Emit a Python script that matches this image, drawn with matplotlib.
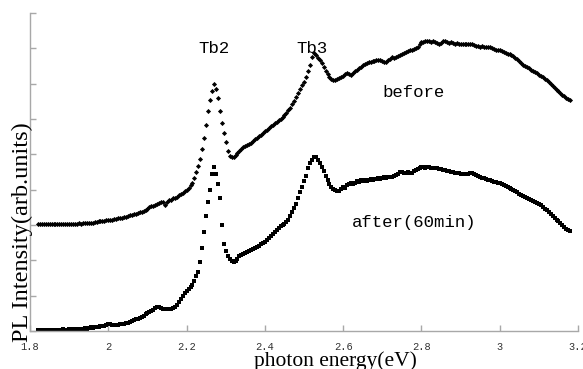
import numpy as np
import matplotlib
matplotlib.use("Agg")
import matplotlib.pyplot as plt

# PL spectra, 1.820 - 3.180 eV, 0.005 eV step
e_start = 1.82
e_step = 0.005

before = [
    3.03, 3.03, 3.02, 3.03, 3.03, 3.04, 3.03, 3.03, 3.02, 3.03,
    3.03, 3.04, 3.03, 3.03, 3.04, 3.03, 3.02, 3.03, 3.04, 3.04,
    3.04, 3.05, 3.04, 3.05, 3.06, 3.05, 3.06, 3.07, 3.06, 3.08,
    3.09, 3.10, 3.10, 3.12, 3.11, 3.13, 3.14, 3.15, 3.14, 3.17,
    3.18, 3.19, 3.19, 3.21, 3.22, 3.22, 3.25, 3.28, 3.27, 3.30,
    3.32, 3.34, 3.36, 3.38, 3.41, 3.43, 3.45, 3.50, 3.53, 3.55,
    3.57, 3.60, 3.63, 3.66, 3.64, 3.57, 3.65, 3.70, 3.72, 3.75,
    3.77, 3.80, 3.84, 3.87, 3.90, 3.95, 4.00, 4.05, 4.12, 4.20,
    4.33, 4.50, 4.68, 4.88, 5.15, 5.46, 5.83, 6.22, 6.54, 6.80,
    7.00, 6.85, 6.60, 6.22, 5.90, 5.60, 5.35, 5.10, 4.95, 4.92,
    4.93, 4.98, 5.05, 5.10, 5.16, 5.20, 5.24, 5.26, 5.30, 5.33,
    5.38, 5.42, 5.46, 5.52, 5.56, 5.60, 5.66, 5.70, 5.74, 5.80,
    5.84, 5.88, 5.92, 5.96, 6.00, 6.06, 6.12, 6.18, 6.25, 6.32,
    6.42, 6.52, 6.63, 6.74, 6.85, 6.96, 7.05, 7.18, 7.35, 7.53,
    7.75, 7.86, 7.82, 7.74, 7.68, 7.58, 7.47, 7.36, 7.26, 7.18,
    7.13, 7.10, 7.10, 7.12, 7.16, 7.18, 7.22, 7.28, 7.30, 7.26,
    7.25, 7.30, 7.36, 7.40, 7.45, 7.48, 7.52, 7.55, 7.58, 7.60,
    7.62, 7.64, 7.65, 7.66, 7.67, 7.66, 7.63, 7.61, 7.62, 7.66,
    7.70, 7.75, 7.74, 7.76, 7.79, 7.81, 7.84, 7.87, 7.89, 7.92,
    7.95, 7.96, 7.98, 8.00, 8.04, 8.12, 8.17, 8.19, 8.20, 8.20,
    8.20, 8.19, 8.20, 8.18, 8.16, 8.12, 8.15, 8.20, 8.22, 8.18,
    8.16, 8.17, 8.14, 8.13, 8.14, 8.12, 8.12, 8.13, 8.11, 8.12,
    8.13, 8.11, 8.12, 8.10, 8.07, 8.06, 8.05, 8.07, 8.05, 8.04,
    8.05, 8.04, 8.00, 7.97, 7.95, 7.96, 7.95, 7.92, 7.90, 7.87,
    7.85, 7.83, 7.80, 7.77, 7.74, 7.70, 7.64, 7.58, 7.53, 7.50,
    7.47, 7.44, 7.40, 7.36, 7.33, 7.29, 7.25, 7.21, 7.18, 7.14,
    7.10, 7.05, 7.00, 6.94, 6.88, 6.83, 6.78, 6.73, 6.68, 6.64,
    6.60, 6.57, 6.54,
]

after = [
    0.03, 0.03, 0.02, 0.03, 0.03, 0.04, 0.03, 0.03, 0.04, 0.04,
    0.03, 0.04, 0.04, 0.05, 0.04, 0.04, 0.05, 0.05, 0.04, 0.05,
    0.05, 0.06, 0.05, 0.07, 0.08, 0.07, 0.08, 0.10, 0.09, 0.11,
    0.12, 0.11, 0.13, 0.14, 0.15, 0.18, 0.20, 0.19, 0.17, 0.17,
    0.16, 0.17, 0.19, 0.20, 0.21, 0.22, 0.23, 0.26, 0.28, 0.31,
    0.33, 0.35, 0.38, 0.40, 0.43, 0.47, 0.51, 0.53, 0.56, 0.60,
    0.64, 0.68, 0.67, 0.64, 0.62, 0.62, 0.61, 0.62, 0.62, 0.65,
    0.68, 0.74, 0.82, 0.91, 1.00, 1.07, 1.13, 1.19, 1.24, 1.30,
    1.42, 1.55, 1.68, 1.95, 2.35, 2.80, 3.25, 3.65, 4.00, 4.45,
    4.65, 4.45, 4.15, 3.75, 3.00, 2.45, 2.25, 2.12, 2.03, 1.98,
    1.96, 1.97, 2.05, 2.12, 2.15, 2.18, 2.20, 2.23, 2.25, 2.29,
    2.33, 2.35, 2.39, 2.41, 2.45, 2.48, 2.52, 2.58, 2.64, 2.70,
    2.75, 2.80, 2.86, 2.91, 2.96, 3.00, 3.04, 3.08, 3.15, 3.25,
    3.36, 3.47, 3.60, 3.76, 3.92, 4.08, 4.24, 4.40, 4.60, 4.75,
    4.85, 4.93, 4.92, 4.85, 4.76, 4.65, 4.52, 4.40, 4.27, 4.15,
    4.08, 4.02, 3.98, 3.95, 3.95, 4.02, 4.08, 4.06, 4.12, 4.16,
    4.18, 4.15, 4.20, 4.24, 4.21, 4.26, 4.24, 4.28, 4.25, 4.28,
    4.30, 4.27, 4.31, 4.29, 4.32, 4.30, 4.33, 4.35, 4.33, 4.36,
    4.37, 4.36, 4.39, 4.41, 4.44, 4.49, 4.51, 4.47, 4.46, 4.49,
    4.46, 4.48, 4.52, 4.55, 4.58, 4.60, 4.63, 4.65, 4.62, 4.63,
    4.64, 4.61, 4.62, 4.60, 4.61, 4.58, 4.59, 4.56, 4.57, 4.54,
    4.52, 4.51, 4.49, 4.48, 4.47, 4.46, 4.45, 4.44, 4.43, 4.44,
    4.45, 4.46, 4.46, 4.45, 4.42, 4.39, 4.36, 4.34, 4.32, 4.30,
    4.28, 4.26, 4.24, 4.22, 4.21, 4.19, 4.18, 4.15, 4.12, 4.09,
    4.07, 4.04, 4.01, 3.99, 3.96, 3.93, 3.89, 3.86, 3.83, 3.79,
    3.76, 3.73, 3.70, 3.67, 3.65, 3.62, 3.59, 3.56, 3.51, 3.46,
    3.42, 3.37, 3.32, 3.26, 3.21, 3.15, 3.10, 3.05, 2.99, 2.94,
    2.90, 2.86, 2.82,
]

energy = np.round(e_start + e_step * np.arange(len(before)), 3)

xticks = [1.8, 2.0, 2.2, 2.4, 2.6, 2.8, 3.0, 3.2]
xticklabels = ["1.8", "2", "2.2", "2.4", "2.6", "2.8", "3", "3.2"]

mono = "Liberation Mono"
serif = "Liberation Serif"

fig = plt.figure(figsize=(5.83, 3.69), dpi=100)
ax = fig.add_axes([0.0515, 0.103, 0.94, 0.8618])

ax.plot(energy, before, linestyle="none", marker="D", ms=2.6, color="black", mew=0)
ax.plot(energy, after, linestyle="none", marker="s", ms=3.0, color="black", mew=0)

ax.set_xlim(1.8, 3.2)
ax.set_ylim(0, 9)
ax.set_xticks(xticks)
ax.set_xticklabels(xticklabels, fontfamily=mono, fontsize=7.5, color="#333333")
ax.set_yticks(range(0, 10))
ax.set_yticklabels([])

for side in ("top", "right"):
    ax.spines[side].set_visible(False)
for side in ("left", "bottom"):
    ax.spines[side].set_color("#a8a8a8")
    ax.spines[side].set_linewidth(1.0)
ax.tick_params(axis="both", direction="in", length=4, color="#a8a8a8", width=1.0)
ax.tick_params(axis="x", pad=8)

ax.text(2.27, 8.0, "Tb2", fontfamily=mono, fontsize=12.5, ha="center", va="center")
ax.text(2.52, 8.0, "Tb3", fontfamily=mono, fontsize=12.5, ha="center", va="center")
ax.text(2.78, 6.76, "before", fontfamily=mono, fontsize=12.5, ha="center", va="center")
ax.text(2.78, 3.06, "after(60min)", fontfamily=mono, fontsize=12.5, ha="center", va="center")

fig.text(335 / 583, 1 - 361 / 369, "photon energy(eV)", fontfamily=serif,
         fontsize=15.5, ha="center", va="center")
fig.text(22 / 583, 1 - 232 / 369, "PL Intensity(arb.units)", fontfamily=serif,
         fontsize=17.5, ha="center", va="center", rotation=90)

fig.savefig("out.png", dpi=100)
